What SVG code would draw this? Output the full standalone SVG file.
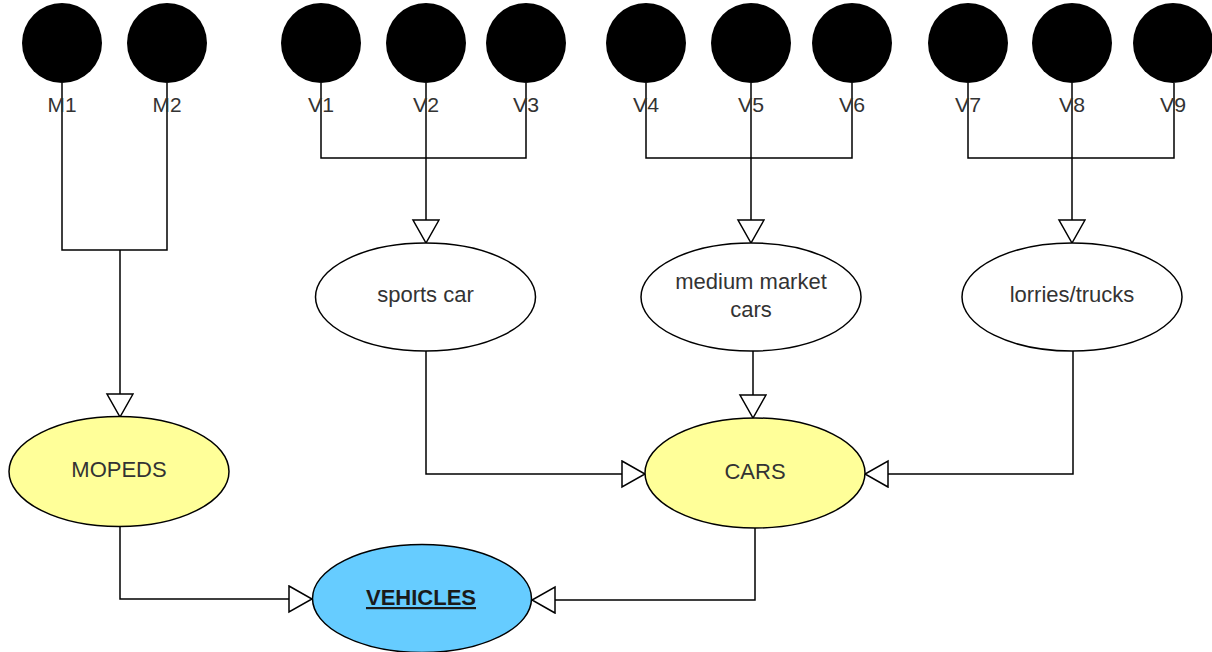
<svg xmlns="http://www.w3.org/2000/svg" width="1212" height="652" viewBox="0 0 1212 652">
<style>
.bg{fill:#ffffff}
.dot{fill:#000000}
.edge{fill:none;stroke:#000000;stroke-width:1.5}
.ell{stroke:#000000;stroke-width:1.5}
.plain{fill:#ffffff}
.yellow{fill:#ffff99}
.blue{fill:#66ccff}
text{font-family:"Liberation Sans",Arial,sans-serif;font-size:22px;fill:#333333;text-anchor:middle}
.lbl{font-size:21px}
.bold{font-weight:bold;fill:#1a1a1a;text-decoration:underline}
</style>
<defs>
<marker id="tri" markerUnits="userSpaceOnUse" markerWidth="26" markerHeight="30" refX="23" refY="13" orient="auto" viewBox="-1 -1 26 30">
<path d="M0,0 L23,13 L0,26 Z" fill="#ffffff" stroke="#000000" stroke-width="1.5"/>
</marker>
</defs>
<rect class="bg" x="0" y="0" width="1212" height="652"/>
<g id="connectors">
<path class="edge" d="M62,83 V250 H167 V83"/>
<path class="edge" d="M120,250 V417" marker-end="url(#tri)"/>
<path class="edge" d="M321,83 V158 H526 V83"/>
<path class="edge" d="M426,83 V243" marker-end="url(#tri)"/>
<path class="edge" d="M646,83 V158 H852 V83"/>
<path class="edge" d="M751,83 V243" marker-end="url(#tri)"/>
<path class="edge" d="M968,83 V158 H1174 V83"/>
<path class="edge" d="M1072,83 V243" marker-end="url(#tri)"/>
<path class="edge" d="M426,351 V474 H645" marker-end="url(#tri)"/>
<path class="edge" d="M753,351 V418" marker-end="url(#tri)"/>
<path class="edge" d="M1073,351 V474 H865" marker-end="url(#tri)"/>
<path class="edge" d="M120,526 V599 H312" marker-end="url(#tri)"/>
<path class="edge" d="M755,528 V600 H532" marker-end="url(#tri)"/>
</g>
<g id="M1"><circle class="dot" cx="62" cy="43" r="40"/><text class="lbl" x="62" y="112" textLength="29" lengthAdjust="spacingAndGlyphs">M1</text></g>
<g id="M2"><circle class="dot" cx="167" cy="43" r="40"/><text class="lbl" x="167" y="112" textLength="29" lengthAdjust="spacingAndGlyphs">M2</text></g>
<g id="V1"><circle class="dot" cx="321" cy="43" r="40"/><text class="lbl" x="321" y="112" textLength="26" lengthAdjust="spacingAndGlyphs">V1</text></g>
<g id="V2"><circle class="dot" cx="426" cy="43" r="40"/><text class="lbl" x="426" y="112" textLength="26" lengthAdjust="spacingAndGlyphs">V2</text></g>
<g id="V3"><circle class="dot" cx="526" cy="43" r="40"/><text class="lbl" x="526" y="112" textLength="26" lengthAdjust="spacingAndGlyphs">V3</text></g>
<g id="V4"><circle class="dot" cx="646" cy="43" r="40"/><text class="lbl" x="646" y="112" textLength="26" lengthAdjust="spacingAndGlyphs">V4</text></g>
<g id="V5"><circle class="dot" cx="751" cy="43" r="40"/><text class="lbl" x="751" y="112" textLength="26" lengthAdjust="spacingAndGlyphs">V5</text></g>
<g id="V6"><circle class="dot" cx="852" cy="43" r="40"/><text class="lbl" x="852" y="112" textLength="26" lengthAdjust="spacingAndGlyphs">V6</text></g>
<g id="V7"><circle class="dot" cx="968" cy="43" r="40"/><text class="lbl" x="968" y="112" textLength="26" lengthAdjust="spacingAndGlyphs">V7</text></g>
<g id="V8"><circle class="dot" cx="1072" cy="43" r="40"/><text class="lbl" x="1072" y="112" textLength="26" lengthAdjust="spacingAndGlyphs">V8</text></g>
<g id="V9"><circle class="dot" cx="1173" cy="43" r="40"/><text class="lbl" x="1173" y="112" textLength="26" lengthAdjust="spacingAndGlyphs">V9</text></g>
<g id="sports_car"><ellipse class="ell plain" cx="425.5" cy="297" rx="110" ry="54"/><text x="425.5" y="302">sports car</text></g>
<g id="medium_market_cars"><ellipse class="ell plain" cx="751" cy="297" rx="110" ry="54"/><text x="751" y="289">medium market</text><text x="751" y="317">cars</text></g>
<g id="lorries_trucks"><ellipse class="ell plain" cx="1072" cy="297" rx="110" ry="54"/><text x="1072" y="302">lorries/trucks</text></g>
<g id="MOPEDS"><ellipse class="ell yellow" cx="119" cy="471.5" rx="110" ry="55"/><text x="119" y="477">MOPEDS</text></g>
<g id="CARS"><ellipse class="ell yellow" cx="755" cy="473" rx="110" ry="55"/><text x="755" y="479">CARS</text></g>
<g id="VEHICLES"><ellipse class="ell blue" cx="422" cy="598.5" rx="109.5" ry="54"/><text class="bold" x="421" y="605">VEHICLES</text></g>
</svg>
